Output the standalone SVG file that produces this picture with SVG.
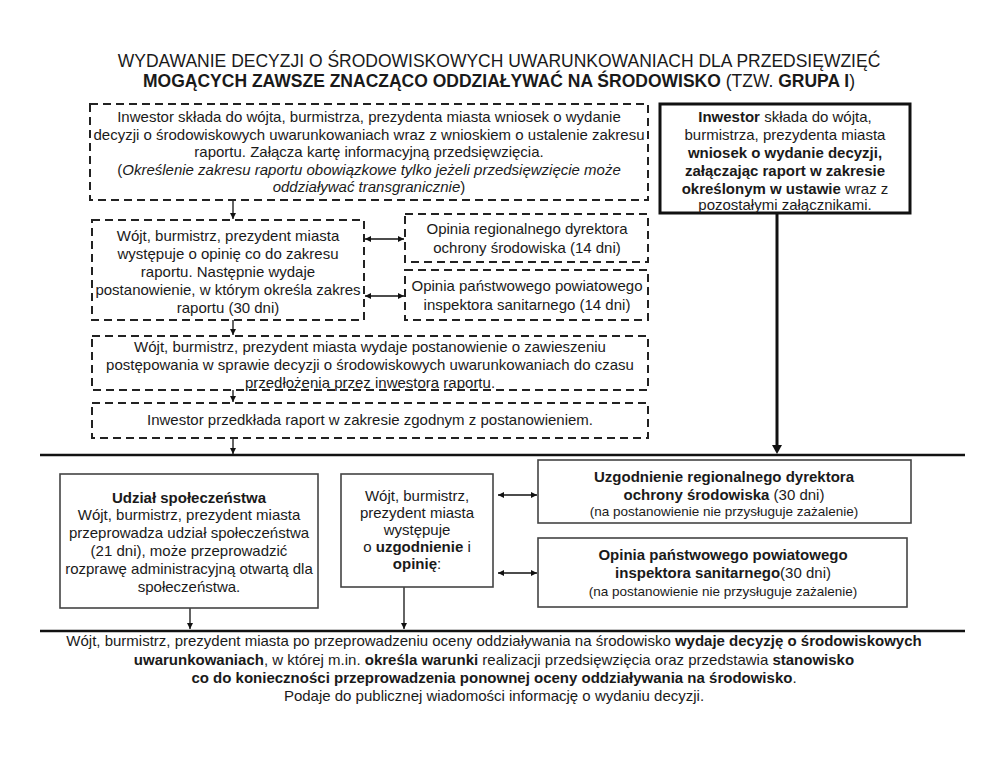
<svg xmlns="http://www.w3.org/2000/svg" width="992" height="766" viewBox="0 0 992 766">
<style>
.t{font-family:"Liberation Sans",Arial,sans-serif;font-size:15px;fill:#1a1a1a;text-anchor:middle}
.s{font-size:13.5px}
.b{font-weight:bold}
.i{font-style:italic}
.ti{font-family:"Liberation Sans",Arial,sans-serif;font-size:17.5px;fill:#1a1a1a;text-anchor:middle}
.bt{font-family:"Liberation Sans",Arial,sans-serif;font-size:15px;fill:#1a1a1a;text-anchor:middle}
.dash{fill:#fff;stroke:#222;stroke-width:2;stroke-dasharray:8 5}
.solid{fill:#fff;stroke:#444;stroke-width:1.6}
.thick{fill:#fff;stroke:#111;stroke-width:3}
.ln{stroke:#111;stroke-width:1.3;fill:none}
.hl{stroke:#111;stroke-width:2.5;fill:none}
</style>
<defs>
<marker id="ah" viewBox="0 0 10 10" refX="10" refY="5" markerWidth="6" markerHeight="6" orient="auto-start-reverse" markerUnits="userSpaceOnUse"><path d="M0,0 L10,5 L0,10 z" fill="#111"/></marker>
</defs>
<rect width="992" height="766" fill="#fff"/>
<g id="title">
<text class="ti" x="499" y="67">WYDAWANIE DECYZJI O ŚRODOWISKOWYCH UWARUNKOWANIACH DLA PRZEDSIĘWZIĘĆ</text>
<text class="ti" x="499" y="87"><tspan font-weight="bold">MOGĄCYCH ZAWSZE ZNACZĄCO ODDZIAŁYWAĆ NA ŚRODOWISKO</tspan> (TZW. <tspan font-weight="bold">GRUPA I</tspan>)</text>
</g>
<g id="connectors">
<line class="ln" x1="233" y1="200" x2="233" y2="219" marker-end="url(#ah)"/>
<line class="ln" x1="233" y1="320" x2="233" y2="335" marker-end="url(#ah)"/>
<line class="ln" x1="233" y1="390" x2="233" y2="402" marker-end="url(#ah)"/>
<line class="ln" x1="233" y1="438" x2="233" y2="454" marker-end="url(#ah)"/>
<line class="ln" x1="365" y1="239" x2="404" y2="239" marker-start="url(#ah)" marker-end="url(#ah)"/>
<line class="ln" x1="365" y1="296" x2="404" y2="296" marker-start="url(#ah)" marker-end="url(#ah)"/>
<line x1="777" y1="214" x2="777" y2="446" stroke="#111" stroke-width="3"/>
<path d="M772,445 L782,445 L777,454 z" fill="#111"/>
<line class="hl" x1="40" y1="455" x2="965" y2="455"/>
<line class="ln" x1="498" y1="495" x2="537" y2="495" marker-start="url(#ah)" marker-end="url(#ah)"/>
<line class="ln" x1="498" y1="573" x2="537" y2="573" marker-start="url(#ah)" marker-end="url(#ah)"/>
<line class="ln" x1="190" y1="608" x2="190" y2="629" marker-end="url(#ah)"/>
<line class="ln" x1="404" y1="587" x2="404" y2="629" marker-end="url(#ah)"/>
<line class="hl" x1="40" y1="631" x2="965" y2="631"/>
</g>
<g id="n1">
<rect class="dash" x="90" y="104" width="558" height="96"/>
<text class="t" x="369" y="122">Inwestor składa do wójta, burmistrza, prezydenta miasta wniosek o wydanie</text>
<text class="t" x="369" y="140">decyzji o środowiskowych uwarunkowaniach wraz z wnioskiem o ustalenie zakresu</text>
<text class="t" x="369" y="157">raportu. Załącza kartę informacyjną przedsięwzięcia.</text>
<text class="t" x="369" y="175">(<tspan class="i">Określenie zakresu raportu obowiązkowe tylko jeżeli przedsięwzięcie może</tspan></text>
<text class="t" x="369" y="192"><tspan class="i">oddziaływać transgranicznie</tspan>)</text>
</g>
<g id="n2">
<rect class="thick" x="660" y="104" width="250" height="109"/>
<text class="t" x="785" y="122"><tspan class="b">Inwestor</tspan> składa do wójta,</text>
<text class="t" x="785" y="140">burmistrza, prezydenta miasta</text>
<text class="t" x="785" y="158" font-weight="bold">wniosek o wydanie decyzji,</text>
<text class="t" x="785" y="176" font-weight="bold">załączając raport w zakresie</text>
<text class="t" x="785" y="194"><tspan class="b">określonym w ustawie</tspan> wraz z</text>
<text class="t" x="785" y="210">pozostałymi załącznikami.</text>
</g>
<g id="n3">
<rect class="dash" x="92" y="220" width="272" height="100"/>
<text class="t" x="228" y="241">Wójt, burmistrz, prezydent miasta</text>
<text class="t" x="228" y="259">występuje o opinię co do zakresu</text>
<text class="t" x="228" y="277">raportu. Następnie wydaje</text>
<text class="t" x="228" y="295">postanowienie, w którym określa zakres</text>
<text class="t" x="228" y="313">raportu (30 dni)</text>
</g>
<g id="n4">
<rect class="dash" x="405" y="214" width="243" height="48"/>
<text class="t" x="527" y="234">Opinia regionalnego dyrektora</text>
<text class="t" x="527" y="253">ochrony środowiska (14 dni)</text>
</g>
<g id="n5">
<rect class="dash" x="405" y="270" width="243" height="50"/>
<text class="t" x="527" y="291">Opinia państwowego powiatowego</text>
<text class="t" x="527" y="310">inspektora sanitarnego (14 dni)</text>
</g>
<g id="n6">
<rect class="dash" x="92" y="336" width="556" height="54"/>
<text class="t" x="370" y="352">Wójt, burmistrz, prezydent miasta wydaje postanowienie o zawieszeniu</text>
<text class="t" x="370" y="370">postępowania w sprawie decyzji o środowiskowych uwarunkowaniach do czasu</text>
<text class="t" x="370" y="388">przedłożenia przez inwestora raportu.</text>
</g>
<g id="n7">
<rect class="dash" x="92" y="403" width="556" height="35"/>
<text class="t" x="370" y="425">Inwestor przedkłada raport w zakresie zgodnym z postanowieniem.</text>
</g>
<g id="n8">
<rect class="solid" x="60" y="474" width="258" height="134"/>
<text class="t" x="189" y="503" font-weight="bold">Udział społeczeństwa</text>
<text class="t" x="189" y="520">Wójt, burmistrz, prezydent miasta</text>
<text class="t" x="189" y="538">przeprowadza udział społeczeństwa</text>
<text class="t" x="189" y="556">(21 dni), może przeprowadzić</text>
<text class="t" x="189" y="574">rozprawę administracyjną otwartą dla</text>
<text class="t" x="189" y="592">społeczeństwa.</text>
</g>
<g id="n9">
<rect class="solid" x="341" y="474" width="152" height="113"/>
<text class="t" x="417" y="501">Wójt, burmistrz,</text>
<text class="t" x="417" y="518">prezydent miasta</text>
<text class="t" x="417" y="535">występuje</text>
<text class="t" x="417" y="552">o <tspan class="b">uzgodnienie</tspan> i</text>
<text class="t" x="417" y="569"><tspan class="b">opinię</tspan>:</text>
</g>
<g id="n10">
<rect class="solid" x="538" y="460" width="373" height="63"/>
<text class="t" x="724" y="482" font-weight="bold">Uzgodnienie regionalnego dyrektora</text>
<text class="t" x="724" y="500"><tspan class="b">ochrony środowiska</tspan> (30 dni)</text>
<text class="t s" x="724" y="516">(na postanowienie nie przysługuje zażalenie)</text>
</g>
<g id="n11">
<rect class="solid" x="538" y="538" width="369" height="69"/>
<text class="t" x="723" y="560" font-weight="bold">Opinia państwowego powiatowego</text>
<text class="t" x="723" y="578"><tspan class="b">inspektora sanitarnego</tspan>(30 dni)</text>
<text class="t s" x="723" y="596">(na postanowienie nie przysługuje zażalenie)</text>
</g>
<g id="n12">
<text class="bt" x="494" y="646">Wójt, burmistrz, prezydent miasta po przeprowadzeniu oceny oddziaływania na środowisko <tspan font-weight="bold">wydaje decyzję o środowiskowych</tspan></text>
<text class="bt" x="494" y="665"><tspan font-weight="bold">uwarunkowaniach</tspan>, w której m.in. <tspan font-weight="bold">określa warunki</tspan> realizacji przedsięwzięcia oraz przedstawia <tspan font-weight="bold">stanowisko</tspan></text>
<text class="bt" x="494" y="683"><tspan font-weight="bold">co do konieczności przeprowadzenia ponownej oceny oddziaływania na środowisko</tspan>.</text>
<text class="bt" x="494" y="701">Podaje do publicznej wiadomości informację o wydaniu decyzji.</text>
</g>
</svg>
